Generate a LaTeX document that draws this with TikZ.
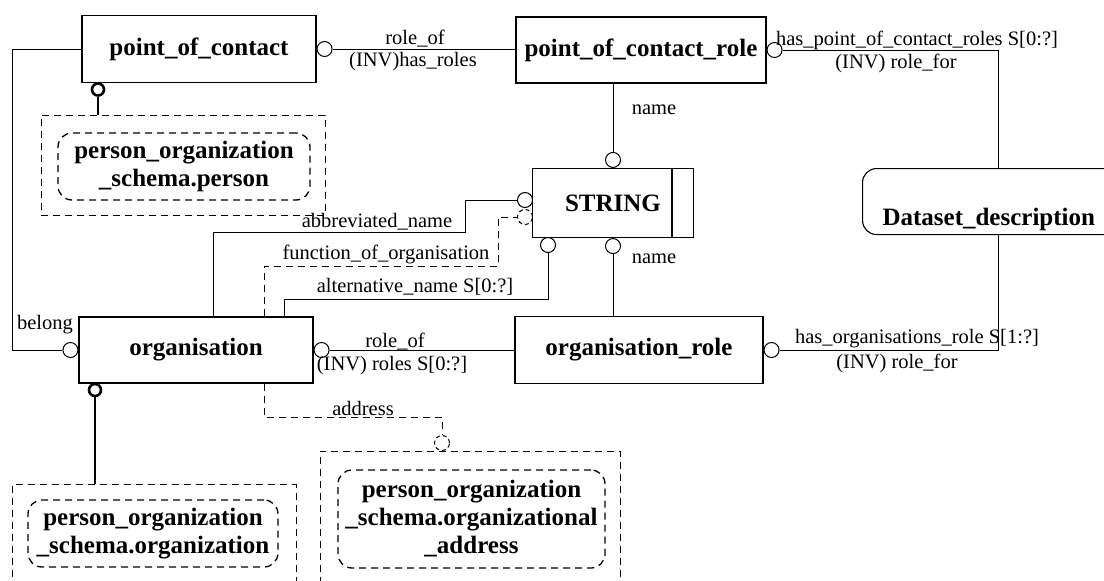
\documentclass[tikz,border=0pt]{standalone}
\usepackage{fontspec}
\setmainfont{Liberation Serif}
\usetikzlibrary{positioning}

\begin{document}
\begin{tikzpicture}
    [x=1pt,y=-1pt,
     ent/.style={draw=black,line width=1.1pt,font=\fontsize{25}{28}\selectfont\bfseries},
     ring/.style={shape=circle,draw=black,line width=1pt,fill=white,inner sep=0pt,minimum size=15pt},
     bigring/.style={shape=circle,draw=black,line width=2.6pt,inner sep=0pt,minimum size=12pt},
     dsh/.style={dash pattern=on 7pt off 5pt},
     lab/.style={font=\fontsize{20.5}{23}\selectfont,inner sep=0pt},
     link/.style={line width=1pt}]
    \useasboundingbox (0,0) rectangle (1104,581);
    \clip (0,0) rectangle (1104,581);
    % entities
    \node [ent,minimum width=234pt,minimum height=67pt] (poc) at (199,49) {point\_of\_contact};
    \node [ent,minimum width=250pt,minimum height=66pt] (pocr) at (641,50) {point\_of\_contact\_role};
    \node [ent,minimum width=161pt,minimum height=69pt] (str) at (613,203) {STRING};
    \draw [line width=1.6pt] ([xshift=-22pt]str.north east) -- ([xshift=-22pt]str.south east);
    \node [ent,minimum width=234pt,minimum height=66pt] (org) at (196,350) {organisation};
    \node [ent,minimum width=248pt,minimum height=67pt] (orgr) at (639,350) {organisation\_role};
    \node [ent,rounded corners=14pt,anchor=north west,align=left,text width=260pt,
           inner xsep=20pt,inner ysep=0pt,text height=57pt,text depth=9pt] (dset) at (862,168) {Dataset\_description};
    % external schema references
    \node [draw,dsh,link,minimum width=284pt,minimum height=100pt] (persbox) at (183,165) {};
    \node [ent,dsh,line width=1.3pt,rounded corners=14pt,align=center,minimum width=252pt,minimum height=67pt]
      (pers) at (184,166.5) {person\_organization\\\_schema.person};
    \node [draw,dsh,link,minimum width=284pt,minimum height=115pt] (orgnbox) at (154,542) {};
    \node [ent,dsh,line width=1.3pt,rounded corners=14pt,align=center,minimum width=250pt,minimum height=67pt]
      (orgn) at (153,533.5) {person\_organization\\\_schema.organization};
    \node [draw,dsh,link,minimum width=300pt,minimum height=150pt] (addrbox) at (470,526) {};
    \node [ent,dsh,line width=1.3pt,rounded corners=14pt,align=center,minimum width=267pt,minimum height=98pt]
      (addr) at (471.5,519) {person\_organization\\\_schema.organizational\\\_address};
    % rings
    \node [ring,right=0pt of poc] (pocR) {};
    \node [ring,right=0pt of pocr] (pocrR) {};
    \node [ring,above=0pt of str] (strT) {};
    \node [ring] (strL) at (525,200) {};
    \node [ring,dash pattern=on 4pt off 3pt,fill=none] (strD) at (525,217) {};
    \node [ring] (strB1) at (548,245) {};
    \node [ring,below=0pt of str] (strB2) {};
    \node [ring,left=0pt of org] (orgL) {};
    \node [ring,right=0pt of org] (orgR) {};
    \node [ring,right=0pt of orgr] (orgrR) {};
    \node [ring,dash pattern=on 4pt off 3pt] (addrD) at (442,443) {};
    \node [bigring] (pocB) at (98,89.5) {};
    \node [bigring] (orgB) at (95,390) {};
    % connectors
    \draw [link] (pocR.east) -- (pocR.east -| pocr.west);
    \draw [link] (poc.west) -| ([xshift=-50pt]orgL.west) -- (orgL.west);
    \draw [line width=2.6pt] (pocB.south) -- (pocB.south |- persbox.north);
    \draw [line width=2.6pt] (orgB.south) -- (orgB.south |- orgnbox.north);
    \draw [link] (strT.north) -- (strT.north |- pocr.south);
    \draw [link] (pocrR.east) -| ([xshift=136pt]dset.north west);
    \draw [link] ([xshift=136pt]dset.south west) |- (orgrR.east);
    \draw [link] (strB2.south) -- (strB2.south |- orgr.north);
    \draw [link] (orgR.east) -- (orgR.east -| orgr.west);
    \draw [link] ([xshift=17pt]org.north) |- (465,232) |- (strL.west);
    \draw [link,dsh] ([xshift=68pt]org.north) |- (498,266) |- (strD.west);
    \draw [link] ([xshift=88pt]org.north) |- (548,299) -- (strB1.south);
    \draw [link,dsh] ([xshift=68pt]org.south) |- (442,417) -- (addrD.north);
    % labels
    \node [lab] (rolePoc) at (415,39) {role\_of};
    \node [lab] (invPoc) at (413,62) {(INV)has\_roles};
    \node [lab] (belong) at (45,325) {belong};
    \node [lab] (nameT) at (654,110) {name};
    \node [lab] (nameB) at (654,259) {name};
    \node [lab] (hasPoc) at (917,40) {has\_point\_of\_contact\_roles S[0:?]};
    \node [lab] (invDsT) at (896,63) {(INV) role\_for};
    \node [lab] (hasOrg) at (917,339) {has\_organisations\_role S[1:?]};
    \node [lab] (invDsB) at (897,363) {(INV) role\_for};
    \node [lab] (roleOrg) at (395,342) {role\_of};
    \node [lab] (invOrg) at (392,366) {(INV) roles S[0:?]};
    \node [lab] (abbr) at (377,222) {abbreviated\_name};
    \node [lab] (func) at (386,254) {function\_of\_organisation};
    \node [lab] (alt) at (415,287) {alternative\_name S[0:?]};
    \node [lab] (addrLab) at (363,408) {address};
\end{tikzpicture}
\end{document}
